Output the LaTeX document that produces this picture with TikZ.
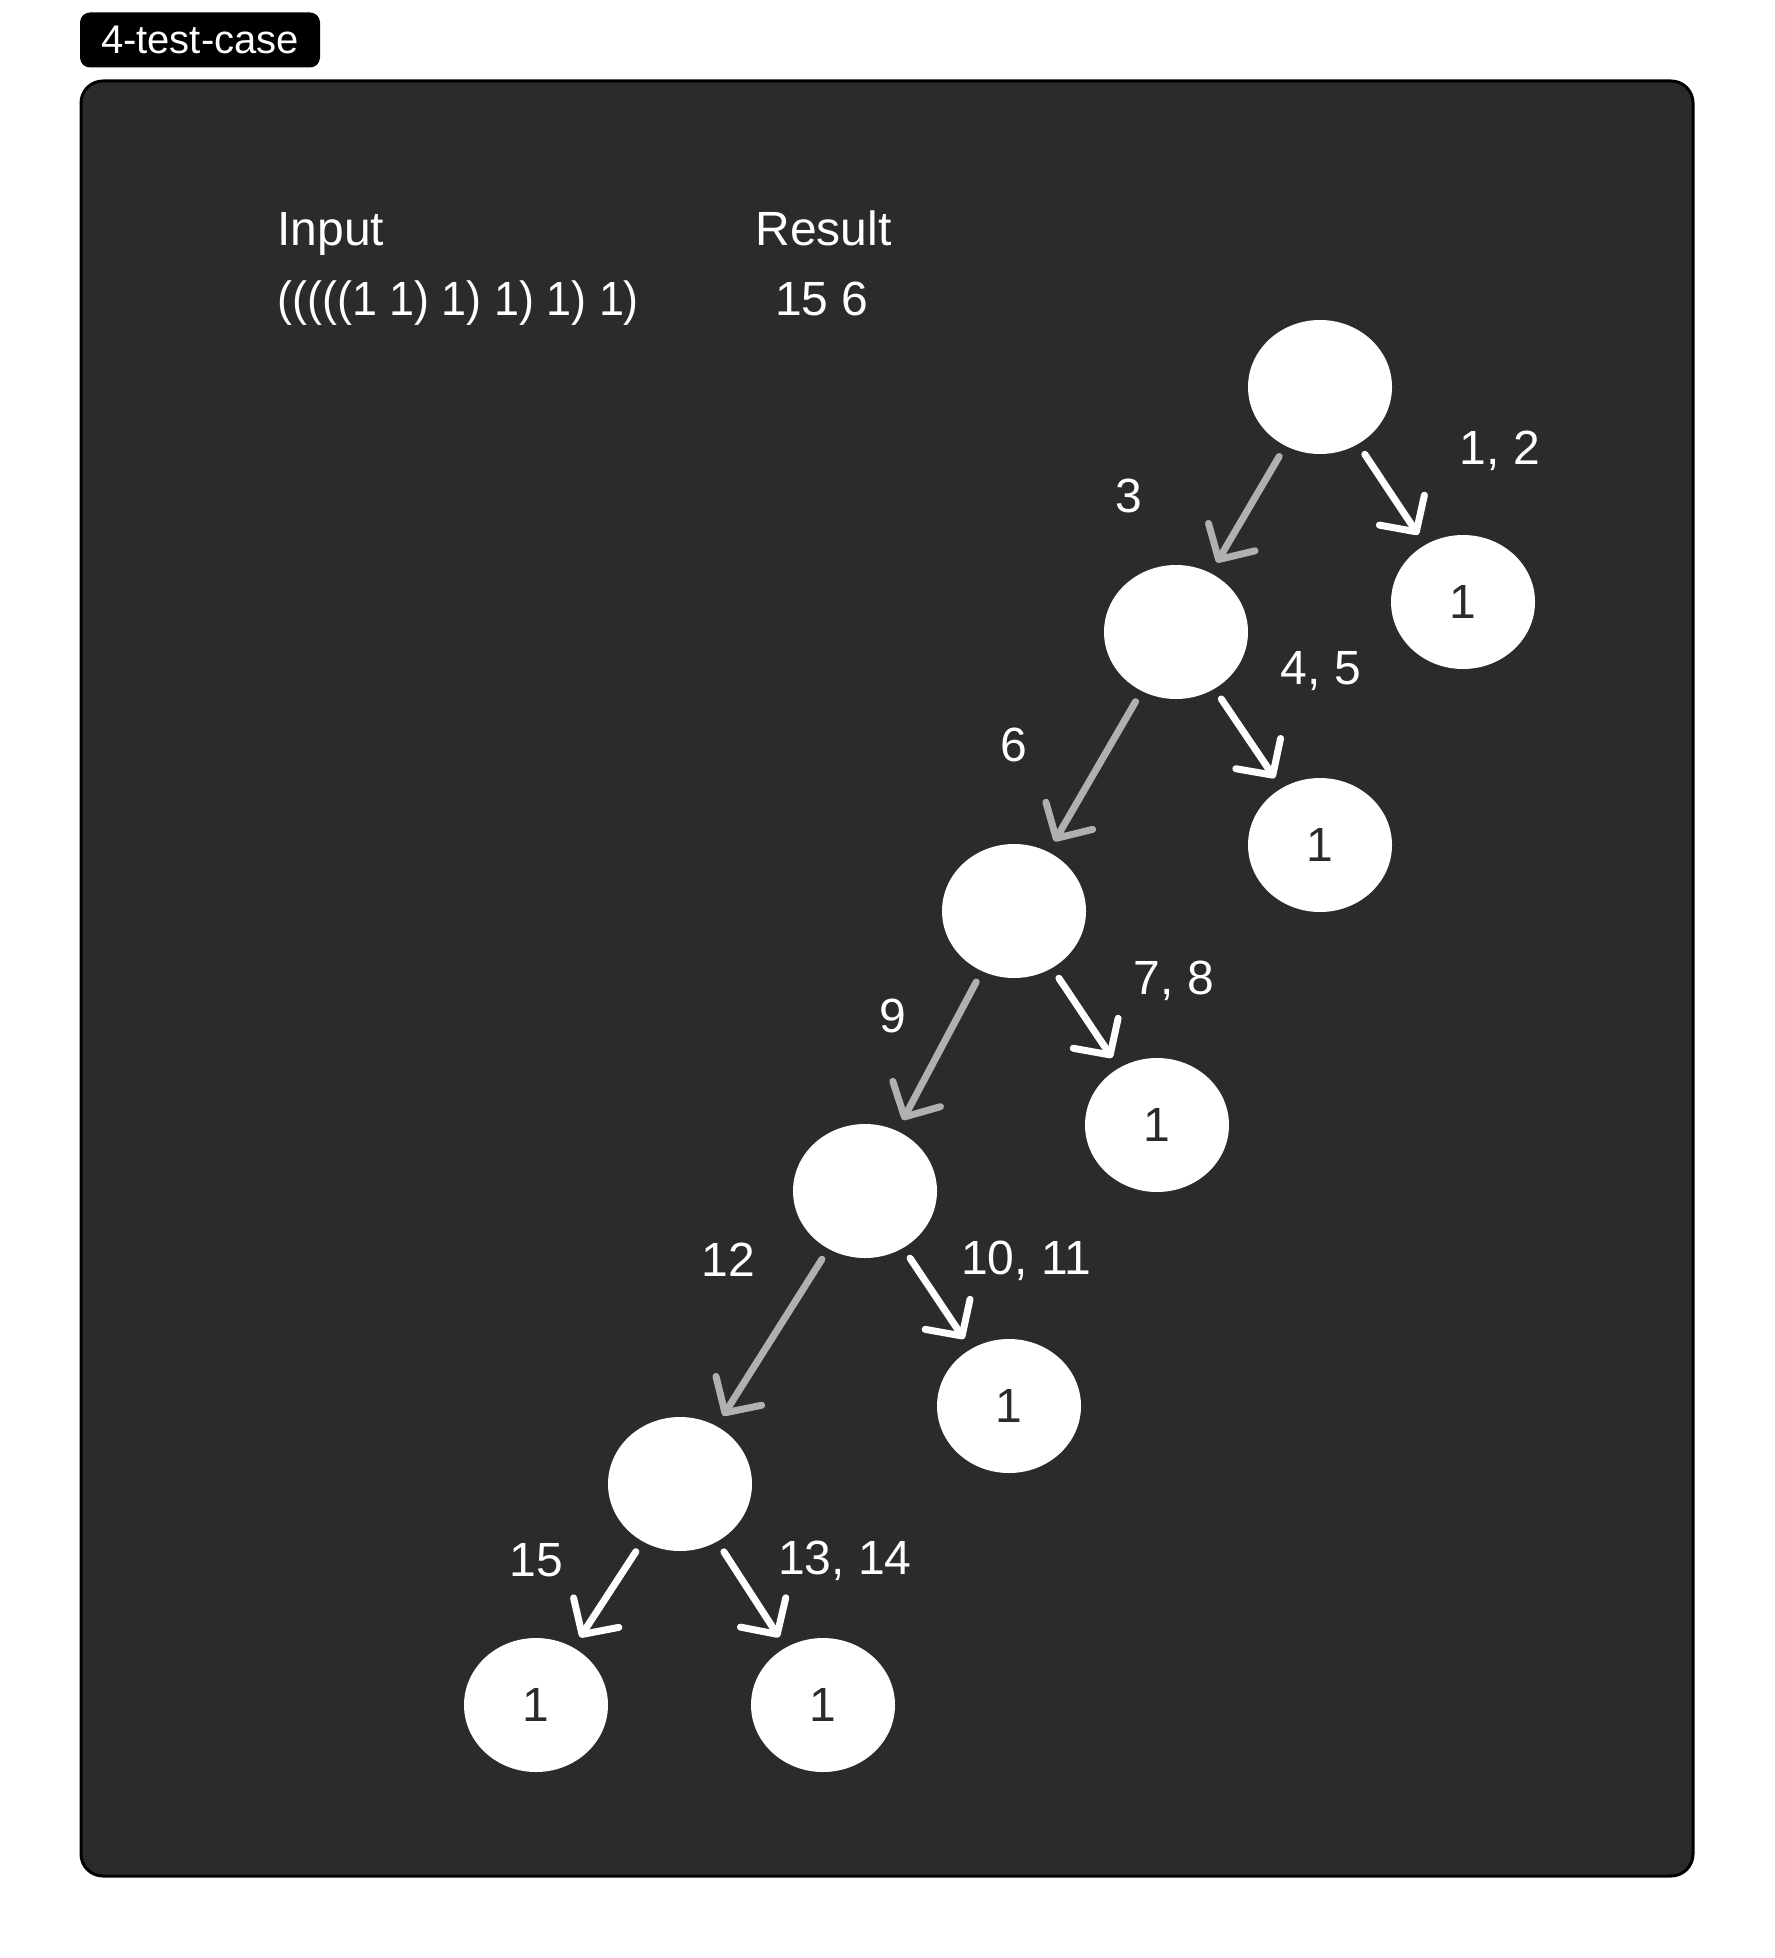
\documentclass[tikz,border=0pt]{standalone}
\usepackage{fontspec}
\setmainfont{Liberation Sans}
\usetikzlibrary{arrows.meta,shapes.geometric}
\definecolor{panel}{HTML}{2B2B2B}
\definecolor{greyarrow}{HTML}{B0B0B0}
\begin{document}
\begin{tikzpicture}[x=0.5pt,y=-0.5pt,
  bubble/.style={ellipse,fill=white,minimum width=72pt,minimum height=67pt,inner sep=0pt,font=\fontsize{24pt}{28pt}\selectfont,text=panel},
  lbl/.style={text=white,font=\fontsize{24pt}{28pt}\selectfont,inner sep=0pt},
  edgebase/.style={line width=3.5pt,line cap=round,-{Straight Barb[length=13pt,width=27pt,round]},shorten <=6pt,shorten >=6pt},
  leftedge/.style={edgebase,draw=greyarrow},
  rightedge/.style={edgebase,draw=white}]
\fill[white] (0,0) rectangle (1774,1958);
\useasboundingbox (0,0) rectangle (1774,1958);
% tag
\node[fill=black,rounded corners=5pt,minimum width=120pt,minimum height=27.5pt,inner sep=0pt,text=white,font=\fontsize{20pt}{22pt}\selectfont] (tag) at (200,40) {4-test-case};
% panel
\draw[line width=1.5pt,fill=panel,rounded corners=11pt] (81,81) rectangle (1693,1876);
% header texts
\node[lbl,anchor=base west] (inputh) at (277,246) {Input};
\node[lbl,anchor=base west] (inputv) at (277,315) {\scalebox{0.935}[1]{(((((1 1) 1) 1) 1) 1)}};
\node[lbl,anchor=base west] (resulth) at (755,246) {Result};
\node[lbl,anchor=base] (resultv) at (822,315) {15 6};
% nodes
\node[bubble] (A) at (1320,387) {};
\node[bubble] (L1) at (1463,602) {1};
\node[bubble] (B) at (1176,632) {};
\node[bubble] (L2) at (1320,845) {1};
\node[bubble] (C) at (1014,911) {};
\node[bubble] (L3) at (1157,1125) {1};
\node[bubble] (D) at (865,1191) {};
\node[bubble] (L4) at (1009,1406) {1};
\node[bubble] (E) at (680,1484) {};
\node[bubble] (L5) at (536,1705) {1};
\node[bubble] (L6) at (823,1705) {1};
% edges
\draw[leftedge] (A) -- (B);
\draw[rightedge] (A) -- (L1);
\draw[leftedge] (B) -- (C);
\draw[rightedge] (B) -- (L2);
\draw[leftedge] (C) -- (D);
\draw[rightedge] (C) -- (L3);
\draw[leftedge] (D) -- (E);
\draw[rightedge] (D) -- (L4);
\draw[rightedge] (E) -- (L5);
\draw[rightedge] (E) -- (L6);
% edge labels
\node[lbl] (t3) at (1129,496) {3};
\node[lbl] (t12) at (1500,451) {1, 2};
\node[lbl] (t45) at (1321,671) {4, 5};
\node[lbl] (t6) at (1014,745) {6};
\node[lbl] (t78) at (1174,981) {7, 8};
\node[lbl] (t9) at (893,1016) {9};
\node[lbl] (t1011) at (1026,1261) {10, 11};
\node[lbl] (t12b) at (728,1260) {12};
\node[lbl] (t1314) at (845,1561) {13, 14};
\node[lbl] (t15) at (536,1560) {15};
\end{tikzpicture}
\end{document}
